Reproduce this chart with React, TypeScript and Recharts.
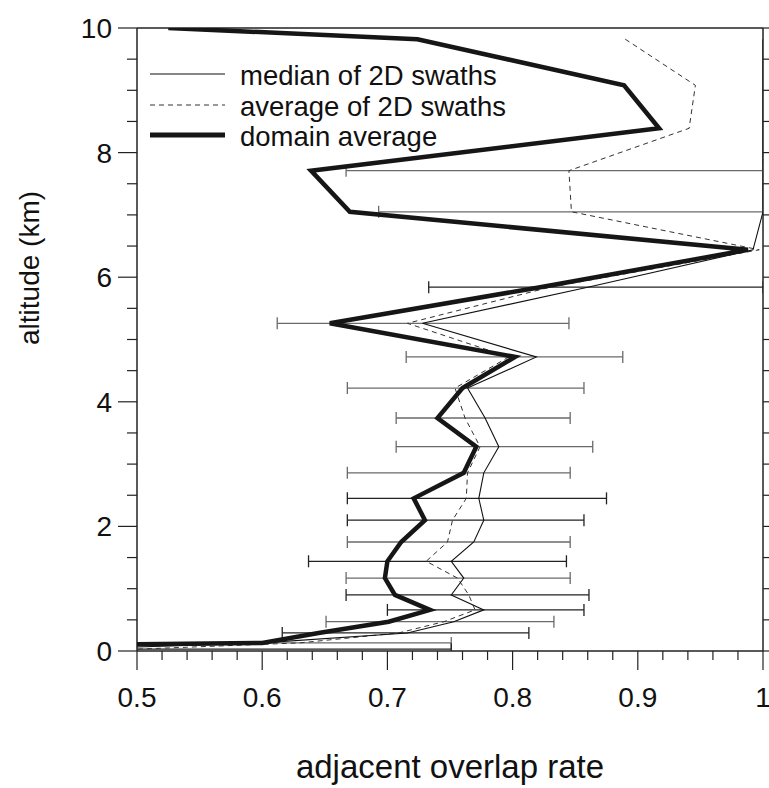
import React from 'react';
import { ScatterChart, Scatter, XAxis, YAxis } from 'recharts';

// ---- data ----
const altitudes = [10.0, 9.82, 9.08, 8.39, 7.71, 7.05, 6.44, 5.84, 5.26, 4.72, 4.22, 3.74, 3.28, 2.86, 2.45, 2.10, 1.75, 1.44, 1.17, 0.90, 0.66, 0.47, 0.29, 0.13, 0.03];
const domainAverage = [0.525, 0.724, 0.889, 0.917, 0.639, 0.670, 0.988, 0.822, 0.654, 0.802, 0.760, 0.740, 0.771, 0.761, 0.721, 0.730, 0.711, 0.700, 0.698, 0.706, 0.734, 0.701, 0.645, 0.600, 0.100];
const swathAverage = [null, 0.890, 0.946, 0.941, 0.845, 0.847, 0.997, 0.830, 0.716, 0.797, 0.754, 0.762, 0.774, 0.764, 0.763, 0.752, 0.748, 0.731, 0.756, 0.765, 0.770, 0.745, 0.709, 0.630, 0.500];
const swathMedian = [null, 1.0, 1.0, 1.0, 1.0, 1.0, 0.992, 0.860, 0.728, 0.819, 0.764, 0.778, 0.789, 0.777, 0.773, 0.777, 0.769, 0.751, 0.761, 0.751, 0.777, 0.753, 0.716, 0.600, 0.450];
const swathLow = [null, null, null, null, 0.667, 0.693, null, 0.733, 0.612, 0.715, 0.668, 0.707, 0.707, 0.668, 0.668, 0.668, 0.668, 0.637, 0.667, 0.667, 0.700, 0.651, 0.616, 0.450, 0.450];
const swathHigh = [null, null, null, null, 1.0, 1.0, null, 1.0, 0.845, 0.888, 0.857, 0.846, 0.864, 0.846, 0.875, 0.857, 0.846, 0.843, 0.846, 0.861, 0.857, 0.833, 0.813, 0.751, 0.751];

const xTicks = [0.5, 0.52, 0.54, 0.56, 0.58, 0.6, 0.62, 0.64, 0.66, 0.68, 0.7, 0.72, 0.74, 0.76, 0.78, 0.8, 0.82, 0.84, 0.86, 0.88, 0.9, 0.92, 0.94, 0.96, 0.98, 1];
const xMajorTicks = [0.5, 0.6, 0.7, 0.8, 0.9, 1];
const yTicks = [0, 0.5, 1, 1.5, 2, 2.5, 3, 3.5, 4, 4.5, 5, 5.5, 6, 6.5, 7, 7.5, 8, 8.5, 9, 9.5, 10];
const yMajorTicks = [0, 2, 4, 6, 8, 10];

const legendLabels = ['median of 2D swaths', 'average of 2D swaths', 'domain average'];
const xTitle = 'adjacent overlap rate';
const yTitle = 'altitude (km)';

// ---- styles ----
const FONT = '"Liberation Sans", Arial, Helvetica, sans-serif';
const AXIS = '#222';
const darkBarAlts = [5.84, 2.45, 2.10, 1.44, 0.90, 0.66, 0.29, 0.03];

const isMajor = (v: number, majors: number[]) => majors.some((m) => Math.abs(m - v) < 1e-6);

const series = (vals: (number | null)[]) =>
  altitudes
    .map((y, i) => ({ x: vals[i], y }))
    .filter((p) => p.x !== null);

const domainData = series(domainAverage);
const avgData = series(swathAverage);
const medData = series(swathMedian);
const bars = altitudes
  .map((y, i) => ({ y, lo: swathLow[i], hi: swathHigh[i] }))
  .filter((b) => b.lo !== null && b.hi !== null)
  .map((b) => ({ y: b.y, pts: [{ x: b.lo, y: b.y }, { x: b.hi, y: b.y }] }));

const NoShape = () => <g />;

const makeCap = (color: string) => (props: any) => {
  const { cx, cy } = props;
  if (cx == null || cy == null) return <g />;
  return <line x1={cx} x2={cx} y1={cy - 6} y2={cy + 6} stroke={color} strokeWidth={1.3} />;
};

const BottomTick = (props: any) => {
  const { x, y, payload } = props;
  const major = isMajor(payload.value, xMajorTicks);
  return (
    <g>
      <line x1={x} x2={x} y1={y} y2={y + (major ? 19 : 9)} stroke={AXIS} strokeWidth={1.2} />
      {major && (
        <text x={x} y={y + 56} textAnchor="middle" fontSize={28} fontFamily={FONT} fill="#111">
          {String(payload.value)}
        </text>
      )}
    </g>
  );
};

const TopTick = (props: any) => {
  const { x, y, payload } = props;
  const major = isMajor(payload.value, xMajorTicks);
  return <line x1={x} x2={x} y1={y} y2={y - (major ? 19 : 9)} stroke={AXIS} strokeWidth={1.2} />;
};

const LeftTick = (props: any) => {
  const { x, y, payload } = props;
  const major = isMajor(payload.value, yMajorTicks);
  return (
    <g>
      <line x1={x - (major ? 19 : 10)} x2={x} y1={y} y2={y} stroke={AXIS} strokeWidth={1.2} />
      {major && (
        <text x={x - 25} y={y + 10} textAnchor="end" fontSize={28} fontFamily={FONT} fill="#111">
          {String(payload.value)}
        </text>
      )}
    </g>
  );
};

const RightTick = (props: any) => {
  const { x, y, payload } = props;
  const major = isMajor(payload.value, yMajorTicks);
  return <line x1={x} x2={x + (major ? 19 : 10)} y1={y} y2={y} stroke={AXIS} strokeWidth={1.2} />;
};

export default function App() {
  return (
    <div style={{ position: 'absolute', left: 0, top: 0, width: 769, height: 788, background: '#fff' }}>
      <ScatterChart width={769} height={788} margin={{ top: 0, right: 0, bottom: 0, left: 0 }}>
        <XAxis
          xAxisId="bottom"
          type="number"
          dataKey="x"
          orientation="bottom"
          domain={[0.5, 1]}
          allowDataOverflow
          ticks={xTicks}
          interval={0}
          height={137}
          tickSize={0}
          tickMargin={0}
          tickLine={false}
          tick={<BottomTick />}
          axisLine={{ stroke: AXIS, strokeWidth: 1.5 }}
        />
        <XAxis
          xAxisId="top"
          type="number"
          orientation="top"
          domain={[0.5, 1]}
          allowDataOverflow
          ticks={xTicks}
          interval={0}
          height={28}
          tickSize={0}
          tickMargin={0}
          tickLine={false}
          tick={<TopTick />}
          axisLine={{ stroke: AXIS, strokeWidth: 1.5 }}
        />
        <YAxis
          yAxisId="left"
          type="number"
          dataKey="y"
          orientation="left"
          domain={[0, 10]}
          allowDataOverflow
          ticks={yTicks}
          interval={0}
          width={137}
          tickSize={0}
          tickMargin={0}
          tickLine={false}
          tick={<LeftTick />}
          axisLine={{ stroke: AXIS, strokeWidth: 1.5 }}
        />
        <YAxis
          yAxisId="right"
          type="number"
          orientation="right"
          domain={[0, 10]}
          allowDataOverflow
          ticks={yTicks}
          interval={0}
          width={6}
          tickSize={0}
          tickMargin={0}
          tickLine={false}
          tick={<RightTick />}
          axisLine={{ stroke: AXIS, strokeWidth: 1.5 }}
        />

        {bars.map((b) => {
          const color = darkBarAlts.includes(b.y) ? '#222' : '#6a6a6a';
          return (
            <Scatter
              key={'bar' + b.y}
              xAxisId="bottom"
              yAxisId="left"
              data={b.pts}
              line={{ stroke: color, strokeWidth: 1.3 }}
              lineType="joint"
              shape={makeCap(color)}
              isAnimationActive={false}
            />
          );
        })}

        <Scatter
          xAxisId="bottom"
          yAxisId="left"
          data={avgData}
          line={{ stroke: '#333', strokeWidth: 1, strokeDasharray: '5 4' }}
          lineType="joint"
          shape={NoShape}
          isAnimationActive={false}
        />
        <Scatter
          xAxisId="bottom"
          yAxisId="left"
          data={medData}
          line={{ stroke: '#111', strokeWidth: 1.1 }}
          lineType="joint"
          shape={NoShape}
          isAnimationActive={false}
        />
        <Scatter
          xAxisId="bottom"
          yAxisId="left"
          data={domainData}
          line={{ stroke: '#161616', strokeWidth: 4.5 }}
          lineType="joint"
          shape={NoShape}
          isAnimationActive={false}
        />
      </ScatterChart>

      <svg
        width={769}
        height={788}
        style={{ position: 'absolute', left: 0, top: 0, pointerEvents: 'none' }}
      >
        <line x1={150} x2={225} y1={74} y2={74} stroke="#111" strokeWidth={1.1} />
        <line x1={150} x2={225} y1={105} y2={105} stroke="#333" strokeWidth={1} strokeDasharray="5 4" />
        <line x1={150} x2={225} y1={135} y2={135} stroke="#161616" strokeWidth={5} />
        {legendLabels.map((t, i) => (
          <text key={t} x={240} y={85 + i * 30.5} fontSize={27.5} fontFamily={FONT} fill="#111">
            {t}
          </text>
        ))}
        <text x={450} y={778} textAnchor="middle" fontSize={33} fontFamily={FONT} fill="#111">
          {xTitle}
        </text>
        <text
          x={39}
          y={268}
          textAnchor="middle"
          fontSize={28}
          fontFamily={FONT}
          fill="#111"
          transform="rotate(-90 39 268)"
        >
          {yTitle}
        </text>
      </svg>
    </div>
  );
}
